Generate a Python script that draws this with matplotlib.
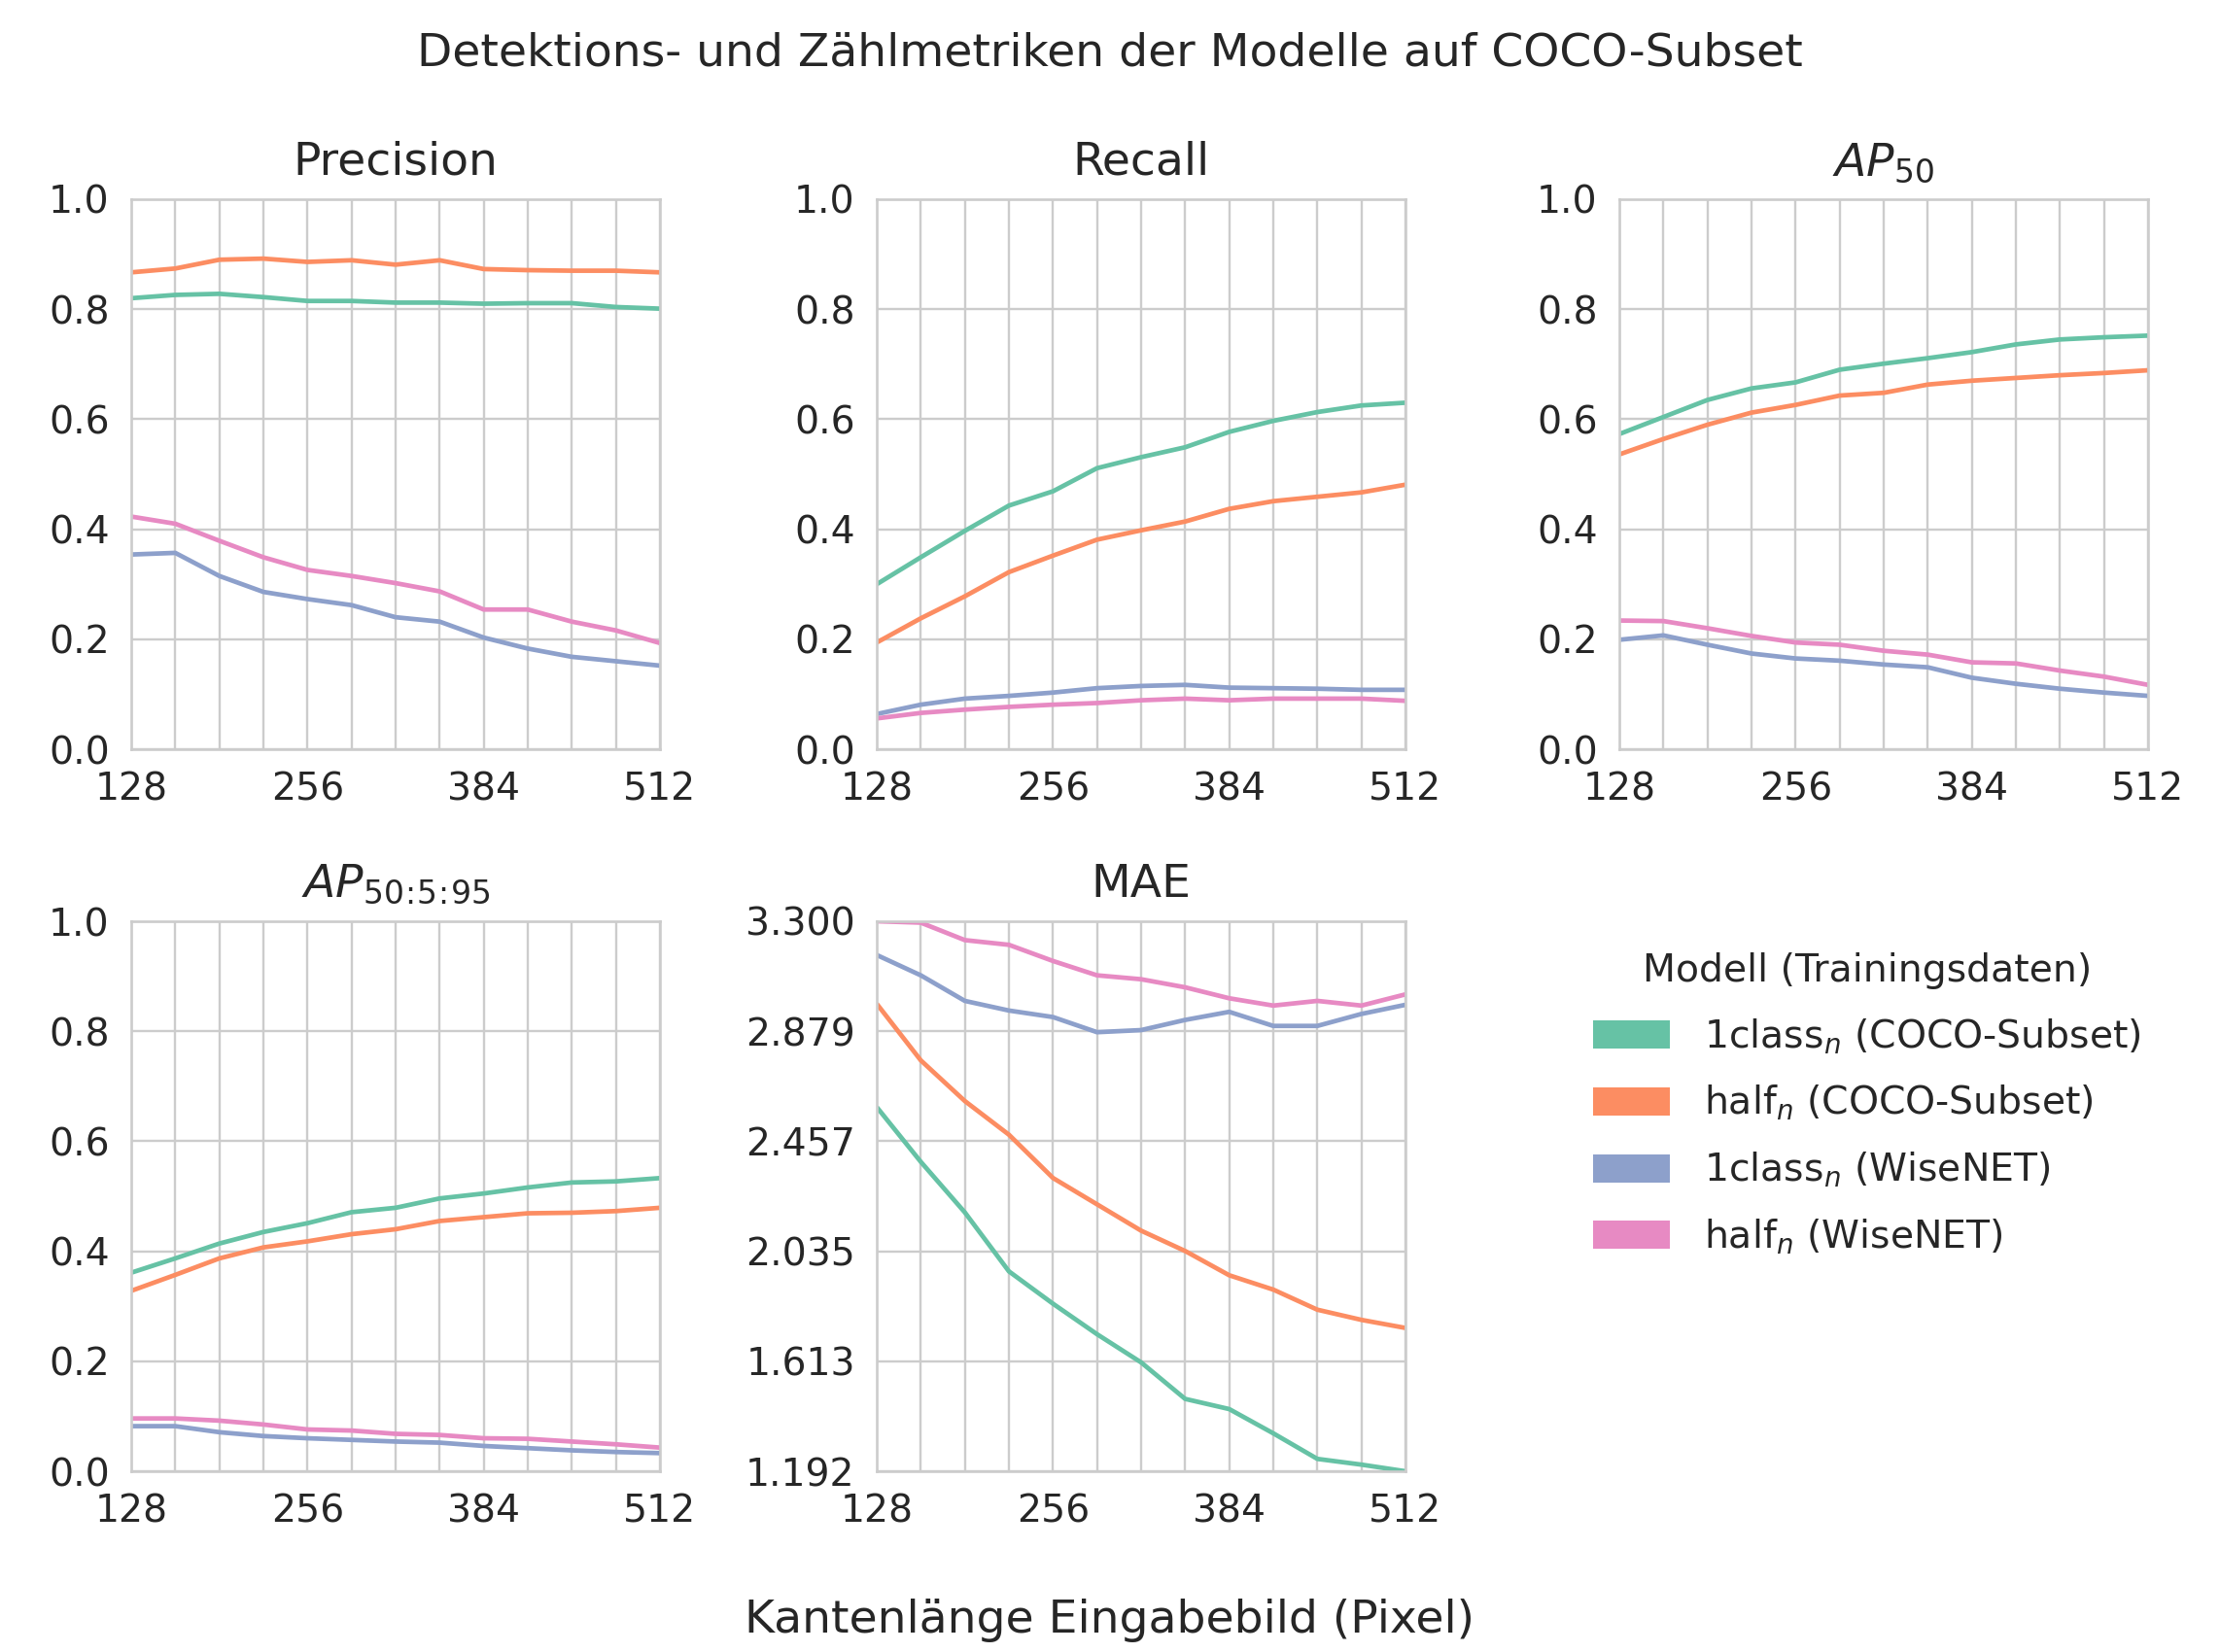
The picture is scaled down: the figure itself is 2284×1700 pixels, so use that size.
import numpy as np
import matplotlib
matplotlib.use("Agg")
import matplotlib.pyplot as plt
from matplotlib.patches import Patch
from matplotlib.ticker import FixedLocator

sizes = [128, 160, 192, 224, 256, 288, 320, 352, 384, 416, 448, 480, 512]

models = ["1class$_n$ (COCO-Subset)", "half$_n$ (COCO-Subset)",
          "1class$_n$ (WiseNET)", "half$_n$ (WiseNET)"]
colors = ["#66c2a5", "#fc8d62", "#8da0cb", "#e78ac3"]

precision_1class_coco = [0.820, 0.826, 0.828, 0.822, 0.815, 0.815, 0.812, 0.812, 0.810, 0.811, 0.811, 0.804, 0.801]
precision_half_coco = [0.867, 0.874, 0.890, 0.892, 0.886, 0.889, 0.881, 0.889, 0.873, 0.871, 0.870, 0.870, 0.867]
precision_1class_wise = [0.354, 0.357, 0.315, 0.286, 0.273, 0.262, 0.240, 0.232, 0.203, 0.183, 0.168, 0.160, 0.152]
precision_half_wise = [0.423, 0.410, 0.379, 0.349, 0.326, 0.315, 0.302, 0.287, 0.254, 0.254, 0.232, 0.216, 0.193]

recall_1class_coco = [0.300, 0.349, 0.397, 0.443, 0.469, 0.511, 0.531, 0.549, 0.577, 0.597, 0.613, 0.625, 0.630]
recall_half_coco = [0.194, 0.238, 0.278, 0.322, 0.352, 0.381, 0.398, 0.414, 0.437, 0.451, 0.459, 0.467, 0.481]
recall_1class_wise = [0.064, 0.081, 0.092, 0.097, 0.103, 0.111, 0.115, 0.117, 0.112, 0.111, 0.110, 0.108, 0.108]
recall_half_wise = [0.056, 0.066, 0.072, 0.077, 0.081, 0.084, 0.089, 0.092, 0.089, 0.092, 0.092, 0.092, 0.088]

ap50_1class_coco = [0.573, 0.604, 0.635, 0.656, 0.667, 0.690, 0.701, 0.711, 0.722, 0.736, 0.745, 0.749, 0.752]
ap50_half_coco = [0.536, 0.564, 0.590, 0.612, 0.626, 0.643, 0.648, 0.663, 0.670, 0.675, 0.680, 0.684, 0.689]
ap50_1class_wise = [0.199, 0.207, 0.190, 0.174, 0.165, 0.161, 0.154, 0.149, 0.130, 0.119, 0.110, 0.103, 0.097]
ap50_half_wise = [0.234, 0.233, 0.220, 0.206, 0.194, 0.190, 0.179, 0.172, 0.158, 0.156, 0.143, 0.132, 0.117]

ap5095_1class_coco = [0.361, 0.387, 0.414, 0.435, 0.451, 0.471, 0.479, 0.496, 0.505, 0.516, 0.525, 0.527, 0.533]
ap5095_half_coco = [0.328, 0.357, 0.387, 0.407, 0.418, 0.431, 0.440, 0.455, 0.462, 0.469, 0.470, 0.473, 0.479]
ap5095_1class_wise = [0.082, 0.082, 0.071, 0.064, 0.060, 0.057, 0.054, 0.052, 0.046, 0.042, 0.038, 0.035, 0.033]
ap5095_half_wise = [0.096, 0.096, 0.092, 0.085, 0.076, 0.074, 0.068, 0.066, 0.060, 0.059, 0.054, 0.049, 0.043]

mae_1class_coco = [2.588, 2.378, 2.184, 1.958, 1.834, 1.717, 1.609, 1.469, 1.430, 1.337, 1.239, 1.217, 1.1916]
mae_half_coco = [2.984, 2.767, 2.611, 2.482, 2.316, 2.215, 2.114, 2.036, 1.943, 1.888, 1.811, 1.772, 1.741]
mae_1class_wise = [3.171, 3.093, 2.995, 2.958, 2.933, 2.875, 2.883, 2.922, 2.953, 2.899, 2.899, 2.945, 2.980]
mae_half_wise = [3.3004, 3.295, 3.228, 3.210, 3.148, 3.093, 3.078, 3.047, 3.005, 2.977, 2.995, 2.977, 3.020]

panels = [
    ("Precision", [precision_1class_coco, precision_half_coco, precision_1class_wise, precision_half_wise]),
    ("Recall", [recall_1class_coco, recall_half_coco, recall_1class_wise, recall_half_wise]),
    ("$AP_{50}$", [ap50_1class_coco, ap50_half_coco, ap50_1class_wise, ap50_half_wise]),
    (r"$AP_{50\!:\!5\!:\!95}$", [ap5095_1class_coco, ap5095_half_coco, ap5095_1class_wise, ap5095_half_wise]),
    ("MAE", [mae_1class_coco, mae_half_coco, mae_1class_wise, mae_half_wise]),
]

plt.rcParams["font.family"] = ["DejaVu Sans"]
plt.rcParams["mathtext.fontset"] = "dejavusans"
text_color = "#262626"
grid_color = "#cccccc"

W, H = 2284, 1700
fig = plt.figure(figsize=(W / 200, H / 200), dpi=200)

lefts = [135, 902, 1666]
width = 544
row_tops = [205, 948]
height = 566

positions = [
    (lefts[0], row_tops[0]), (lefts[1], row_tops[0]), (lefts[2], row_tops[0]),
    (lefts[0], row_tops[1]), (lefts[1], row_tops[1]),
]

for (title, series), (lx, ty) in zip(panels, positions):
    ax = fig.add_axes([lx / W, 1 - (ty + height) / H, width / W, height / H])
    for vals, c, lab in zip(series, colors, models):
        ax.plot(sizes, vals, color=c, lw=1.7, label=lab, solid_capstyle="butt")
    ax.set_xlim(128, 512)
    ax.xaxis.set_major_locator(FixedLocator([128, 256, 384, 512]))
    ax.xaxis.set_minor_locator(FixedLocator(sizes))
    if title == "MAE":
        allv = np.concatenate([np.array(s) for s in series])
        lo, hi = allv.min(), allv.max()
        ax.set_ylim(lo, hi)
        ticks = np.linspace(lo, hi, 6)
        ax.set_yticks(ticks)
        ax.set_yticklabels([f"{t:.3f}" for t in ticks])
    else:
        ax.set_ylim(0, 1)
        ax.set_yticks([0, 0.2, 0.4, 0.6, 0.8, 1.0])
        ax.set_yticklabels([f"{t:.1f}" for t in [0, 0.2, 0.4, 0.6, 0.8, 1.0]])
    ax.grid(True, which="major", axis="y", color=grid_color, lw=0.85)
    ax.grid(True, which="minor", axis="x", color=grid_color, lw=0.85)
    ax.grid(True, which="major", axis="x", color=grid_color, lw=0.85)
    ax.set_axisbelow(True)
    for sp in ax.spines.values():
        sp.set_color(grid_color)
        sp.set_linewidth(0.95)
    ax.tick_params(which="both", length=0, labelsize=14.2, colors=text_color, pad=8)
    ax.set_title(title, fontsize=17, color=text_color, pad=9)

fig.suptitle("Detektions- und Zählmetriken der Modelle auf COCO-Subset",
             fontsize=17, color=text_color, y=1 - 55 / H, va="center")
fig.text(0.5, 1 - 1668 / H, "Kantenlänge Eingabebild (Pixel)", ha="center", va="center",
         fontsize=17, color=text_color)

handles = [Patch(facecolor=c, edgecolor="none", label=m) for c, m in zip(colors, models)]
leg = fig.legend(handles=handles, title="Modell (Trainingsdaten)", loc="center left",
                 bbox_to_anchor=(0.709, 0.3315), frameon=False, fontsize=14.2,
                 title_fontsize=14.2, handlelength=2.0, handleheight=0.75,
                 handletextpad=0.9, labelspacing=0.72, borderpad=0)
for t in leg.get_texts():
    t.set_color(text_color)
leg.get_title().set_color(text_color)

fig.savefig("out.png", dpi=200)
